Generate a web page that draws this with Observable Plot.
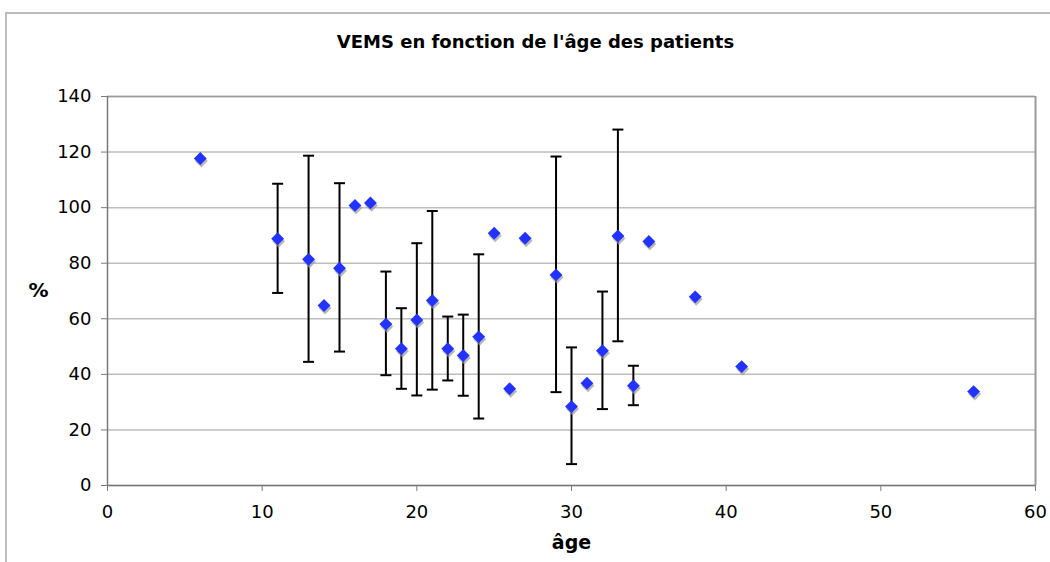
<!DOCTYPE html>
<html>
<head>
<meta charset="utf-8">
<script src="https://cdn.jsdelivr.net/npm/d3@7"></script>
<script src="https://cdn.jsdelivr.net/npm/@observablehq/plot@0.6"></script>
<style>
  html, body { margin: 0; padding: 0; background: #fff; }
  #wrap { position: relative; width: 1050px; height: 562px; overflow: hidden; }
  #frame { position: absolute; left: 5px; top: 12px; width: 1100px; height: 600px;
           border-top: 2px solid #bdbdbd; border-left: 2px solid #bdbdbd; }
  #chart { position: absolute; left: 0; top: 0; }
</style>
</head>
<body>
<div id="wrap"><div id="frame"></div><div id="chart"></div></div>
<script>
const title = "VEMS en fonction de l'âge des patients";
const xLabel = "âge";
const yLabel = "%";
const xTicks = [0, 10, 20, 30, 40, 50, 60];
const yTicks = [0, 20, 40, 60, 80, 100, 120, 140];

const ages = [6, 11, 13, 14, 15, 16, 17, 18, 19, 20, 21, 22, 23, 24, 25, 26, 27, 29, 30, 31, 32, 33, 34, 35, 38, 41, 56];
const vems = [117.7, 88.8, 81.4, 64.8, 78.2, 100.8, 101.7, 58.1, 49.2, 59.6, 66.6, 49.2, 46.8, 53.5, 90.8, 34.8, 89.0, 75.8, 28.4, 36.8, 48.5, 89.8, 35.9, 87.8, 67.9, 42.8, 33.8];
const low  = [null, 69.3, 44.5, null, 48.2, null, null, 39.7, 34.8, 32.4, 34.5, 37.8, 32.3, 24.1, null, null, null, 33.6, 7.7, null, 27.5, 51.9, 28.9, null, null, null, null];
const high = [null, 108.6, 118.7, null, 108.8, null, null, 77.0, 63.8, 87.2, 98.8, 60.8, 61.5, 83.2, null, null, null, 118.4, 49.7, null, 69.8, 128.1, 43.1, null, null, null, null];

const data = ages.map((a, i) => ({age: a, v: vems[i], lo: low[i], hi: high[i]}));
const errs = data.filter(d => d.lo != null);
const caps = errs.flatMap(d => [{age: d.age, y: d.lo}, {age: d.age, y: d.hi}]);

const capSymbol = {
  draw(ctx, size) {
    const w = 5.5;
    ctx.moveTo(-w, 0);
    ctx.lineTo(w, 0);
  }
};

const chart = Plot.plot({
  width: 1050,
  height: 562,
  marginLeft: 107,
  marginRight: 15,
  marginTop: 96,
  marginBottom: 77,
  style: {fontFamily: "DejaVu Sans, Verdana, sans-serif", fontSize: "18px", background: "transparent", color: "#000"},
  x: {domain: [0, 60]},
  y: {domain: [0, 140]},
  marks: [
    Plot.gridY(yTicks, {stroke: "#bdbdbd", strokeOpacity: 1, strokeWidth: 1.5}),
    Plot.ruleX([60], {stroke: "#9a9a9a", strokeWidth: 2}),
    Plot.ruleY([140], {stroke: "#9a9a9a", strokeWidth: 1.5}),
    Plot.ruleX([0], {stroke: "#7a7a7a", strokeWidth: 1.5}),
    Plot.ruleY([0], {stroke: "#7a7a7a", strokeWidth: 1.5}),
    Plot.axisX(xTicks, {tickSize: 6, tickPadding: 14, stroke: "#7a7a7a", fill: "#000", label: null, fontSize: 18}),
    Plot.axisY(yTicks, {tickSize: 6, tickPadding: 10, stroke: "#7a7a7a", fill: "#000", label: null, fontSize: 18}),
    Plot.ruleX(errs, {x: "age", y1: "lo", y2: "hi", stroke: "#000", strokeWidth: 2}),
    Plot.dot(caps, {x: "age", y: "y", symbol: capSymbol, stroke: "#000", strokeWidth: 2, r: 5}),
    Plot.dot(data, {x: "age", y: "v", symbol: "diamond2", r: 5.8, fill: "#9a9a9a", fillOpacity: 0.7, stroke: "none", dx: 1, dy: 2.5}),
    Plot.dot(data, {x: "age", y: "v", symbol: "diamond2", r: 5.8, fill: "#2233ff", stroke: "none"}),
    Plot.text([title], {frameAnchor: "top", dx: -36, dy: -61, fontWeight: "bold", fontSize: 18, fill: "#000"}),
    Plot.text([yLabel], {frameAnchor: "left", dx: -69, textAnchor: "middle", fontWeight: "bold", fontSize: 20, fill: "#000"}),
    Plot.text([xLabel], {frameAnchor: "bottom", dy: 63, fontWeight: "bold", fontSize: 19, fill: "#000"})
  ]
});
document.getElementById("chart").appendChild(chart);
</script>
</body>
</html>
